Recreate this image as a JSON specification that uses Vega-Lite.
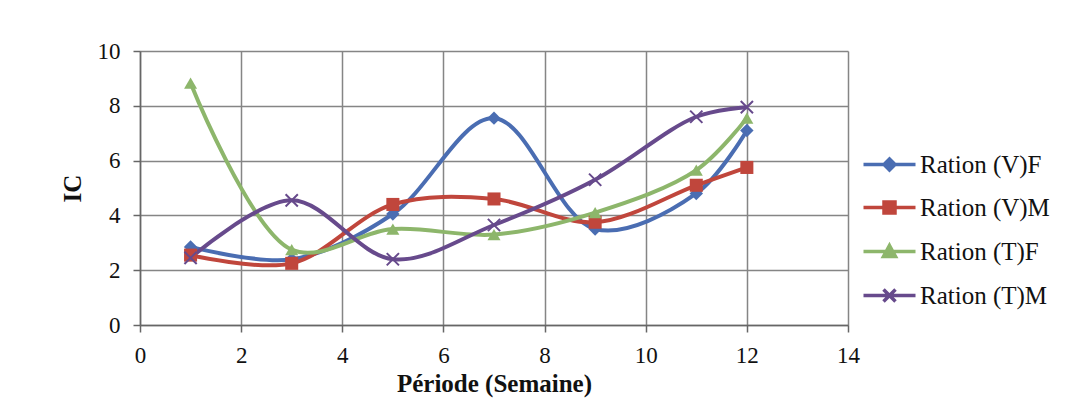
{
  "$schema": "https://vega.github.io/schema/vega-lite/v6.json",
  "autosize": {"type": "none"},
  "width": 708,
  "height": 274,
  "padding": {"left": 140, "top": 51, "right": 240, "bottom": 93},
  "background": "white",
  "config": {
    "view": {"stroke": null},
    "font": "Liberation Serif",
    "axis": {
      "labelFont": "Liberation Serif",
      "titleFont": "Liberation Serif",
      "labelFontSize": 23,
      "titleFontSize": 25,
      "labelColor": "#111111",
      "titleColor": "#111111",
      "gridColor": "#858585",
      "gridWidth": 1.5,
      "gridOpacity": 1,
      "domainColor": "#666666",
      "domainWidth": 1.5,
      "tickColor": "#666666",
      "tickWidth": 1.5,
      "tickSize": 7
    }
  },
  "data": {
    "values": [
      {"series": "Ration (V)F", "semaine": 1, "ic": 2.85},
      {"series": "Ration (V)F", "semaine": 3, "ic": 2.4},
      {"series": "Ration (V)F", "semaine": 5, "ic": 4.05},
      {"series": "Ration (V)F", "semaine": 7, "ic": 7.55},
      {"series": "Ration (V)F", "semaine": 9, "ic": 3.5},
      {"series": "Ration (V)F", "semaine": 11, "ic": 4.8},
      {"series": "Ration (V)F", "semaine": 12, "ic": 7.1},
      {"series": "Ration (V)M", "semaine": 1, "ic": 2.55},
      {"series": "Ration (V)M", "semaine": 3, "ic": 2.25},
      {"series": "Ration (V)M", "semaine": 5, "ic": 4.4},
      {"series": "Ration (V)M", "semaine": 7, "ic": 4.6},
      {"series": "Ration (V)M", "semaine": 9, "ic": 3.75},
      {"series": "Ration (V)M", "semaine": 11, "ic": 5.1},
      {"series": "Ration (V)M", "semaine": 12, "ic": 5.75},
      {"series": "Ration (T)F", "semaine": 1, "ic": 8.83},
      {"series": "Ration (T)F", "semaine": 3, "ic": 2.75},
      {"series": "Ration (T)F", "semaine": 5, "ic": 3.5},
      {"series": "Ration (T)F", "semaine": 7, "ic": 3.3},
      {"series": "Ration (T)F", "semaine": 9, "ic": 4.1},
      {"series": "Ration (T)F", "semaine": 11, "ic": 5.65},
      {"series": "Ration (T)F", "semaine": 12, "ic": 7.55},
      {"series": "Ration (T)M", "semaine": 1, "ic": 2.45},
      {"series": "Ration (T)M", "semaine": 3, "ic": 4.55},
      {"series": "Ration (T)M", "semaine": 5, "ic": 2.4},
      {"series": "Ration (T)M", "semaine": 7, "ic": 3.65},
      {"series": "Ration (T)M", "semaine": 9, "ic": 5.3},
      {"series": "Ration (T)M", "semaine": 11, "ic": 7.6},
      {"series": "Ration (T)M", "semaine": 12, "ic": 7.95}
    ]
  },
  "encoding": {
    "x": {
      "field": "semaine", "type": "quantitative",
      "scale": {"domain": [0, 14], "nice": false, "zero": false},
      "axis": {"values": [0, 2, 4, 6, 8, 10, 12, 14], "title": "Période (Semaine)", "labelPadding": 12, "titlePadding": 4, "labelFlush": false}
    },
    "y": {
      "field": "ic", "type": "quantitative",
      "scale": {"domain": [0, 10], "nice": false},
      "axis": {"values": [0, 2, 4, 6, 8, 10], "title": "IC", "labelPadding": 13, "titlePadding": 12}
    }
  },
  "layer": [
    {
      "mark": {"type": "line", "interpolate": "catmull-rom", "strokeWidth": 4},
      "encoding": {
        "color": {
          "field": "series", "type": "nominal",
          "scale": {
            "domain": ["Ration (V)F", "Ration (V)M", "Ration (T)F", "Ration (T)M"],
            "range": ["#4a6db2", "#c0463c", "#8db66b", "#674a8c"]
          },
          "legend": {
            "title": null,
            "orient": "none",
            "legendX": 737,
            "legendY": 101,
            "padding": 0,
            "labelFont": "Liberation Serif",
            "labelFontSize": 25,
            "labelColor": "#111111",
            "labelOffset": 18,
            "symbolSize": 400,
            "symbolStrokeWidth": 3.5,
            "symbolOpacity": 1,
            "rowPadding": 17
          }
        }
      }
    },
    {
      "mark": {"type": "point", "filled": false, "opacity": 0, "size": 400, "strokeWidth": 3.5},
      "encoding": {
        "color": {"field": "series", "type": "nominal"},
        "shape": {
          "field": "series", "type": "nominal",
          "scale": {
            "domain": ["Ration (V)F", "Ration (V)M", "Ration (T)F", "Ration (T)M"],
            "range": [
              "M-2.6,0L2.6,0M0,-0.55L0.55,0L0,0.55L-0.55,0ZM0,-0.2L0.2,0L0,0.2L-0.2,0Z",
              "M-2.6,0L2.6,0M-0.55,-0.55L0.55,-0.55L0.55,0.55L-0.55,0.55ZM-0.2,-0.2L0.2,-0.2L0.2,0.2L-0.2,0.2Z",
              "M-2.6,0L2.6,0M0,-0.6L0.6,0.5L-0.6,0.5ZM0,-0.15L0.2,0.25L-0.2,0.25Z",
              "M-2.6,0L2.6,0M-0.6,-0.6L0.6,0.6M-0.6,0.6L0.6,-0.6"
            ]
          }
        }
      }
    },
    {
      "transform": [{"filter": "datum.series === 'Ration (V)F'"}],
      "mark": {"type": "point", "filled": true, "shape": "diamond", "size": 180, "color": "#4a6db2", "opacity": 1}
    },
    {
      "transform": [{"filter": "datum.series === 'Ration (V)M'"}],
      "mark": {"type": "point", "filled": true, "shape": "square", "size": 170, "color": "#c0463c", "opacity": 1}
    },
    {
      "transform": [{"filter": "datum.series === 'Ration (T)F'"}],
      "mark": {"type": "point", "filled": true, "shape": "triangle-up", "size": 170, "color": "#8db66b", "opacity": 1}
    },
    {
      "transform": [{"filter": "datum.series === 'Ration (T)M'"}],
      "mark": {"type": "point", "filled": false, "shape": "M-1,-1L1,1M-1,1L1,-1", "size": 150, "strokeWidth": 2, "color": "#674a8c", "opacity": 1}
    }
  ]
}
